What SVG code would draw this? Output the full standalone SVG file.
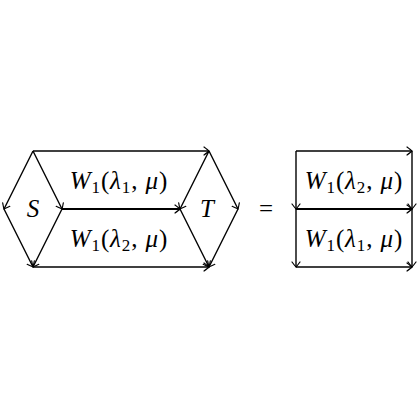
<svg xmlns="http://www.w3.org/2000/svg" width="420" height="420" viewBox="0 0 420 420">
<style>
.e{stroke:#000;stroke-width:1.4;fill:none;marker-end:url(#ah)}
.t{stroke-width:2}
text{font-family:"Liberation Serif","DejaVu Serif",serif;font-size:25px;fill:#000}
.l{letter-spacing:0.9px}
.i{font-style:italic}
.s{font-size:17px}
</style>
<defs>
<marker id="ah" viewBox="-6 -5 8 10" markerWidth="8" markerHeight="10" refX="0" refY="0" orient="auto" markerUnits="userSpaceOnUse">
<path d="M-5,-4 Q-1,-1 0,0 Q-1,1 -5,4" fill="none" stroke="#000" stroke-width="1.2" stroke-linecap="round"/>
</marker>
</defs>
<rect width="420" height="420" fill="#fff"/>
<g id="connectors">
<path class="e" d="M33,151 L4,209"/>
<path class="e" d="M33,151 L62,209"/>
<path class="e" d="M4,209 L33,267"/>
<path class="e" d="M62,209 L33,267"/>
<path class="e" d="M33,151 L209,151"/>
<path class="e t" d="M62,209 L180,209"/>
<path class="e" d="M33,267 L209,267"/>
<path class="e" d="M209,151 L180,209"/>
<path class="e" d="M209,151 L238,209"/>
<path class="e" d="M180,209 L209,267"/>
<path class="e" d="M238,209 L209,267"/>
<path class="e" d="M296,151 L412,151"/>
<path class="e" d="M296,151 L296,209"/>
<path class="e" d="M412,151 L412,209"/>
<path class="e t" d="M296,209 L412,209"/>
<path class="e" d="M296,209 L296,267"/>
<path class="e" d="M412,209 L412,267"/>
<path class="e" d="M296,267 L412,267"/>
</g>
<g id="S"><text x="33" y="217" text-anchor="middle" class="i">S</text></g>
<g id="T"><text x="207" y="217" text-anchor="middle" class="i">T</text></g>
<g id="label-top"><text class="l" x="119" y="189" text-anchor="middle"><tspan class="i">W</tspan><tspan class="s" dy="4">1</tspan><tspan dy="-4">(</tspan><tspan class="i">λ</tspan><tspan class="s" dy="4">1</tspan><tspan dy="-4">, </tspan><tspan class="i">μ</tspan>)</text></g>
<g id="label-bottom"><text class="l" x="119" y="247" text-anchor="middle"><tspan class="i">W</tspan><tspan class="s" dy="4">1</tspan><tspan dy="-4">(</tspan><tspan class="i">λ</tspan><tspan class="s" dy="4">2</tspan><tspan dy="-4">, </tspan><tspan class="i">μ</tspan>)</text></g>
<g id="equals"><text x="266" y="217" text-anchor="middle">=</text></g>
<g id="label-r-top"><text class="l" x="354" y="189" text-anchor="middle"><tspan class="i">W</tspan><tspan class="s" dy="4">1</tspan><tspan dy="-4">(</tspan><tspan class="i">λ</tspan><tspan class="s" dy="4">2</tspan><tspan dy="-4">, </tspan><tspan class="i">μ</tspan>)</text></g>
<g id="label-r-bottom"><text class="l" x="354" y="247" text-anchor="middle"><tspan class="i">W</tspan><tspan class="s" dy="4">1</tspan><tspan dy="-4">(</tspan><tspan class="i">λ</tspan><tspan class="s" dy="4">1</tspan><tspan dy="-4">, </tspan><tspan class="i">μ</tspan>)</text></g>
</svg>
